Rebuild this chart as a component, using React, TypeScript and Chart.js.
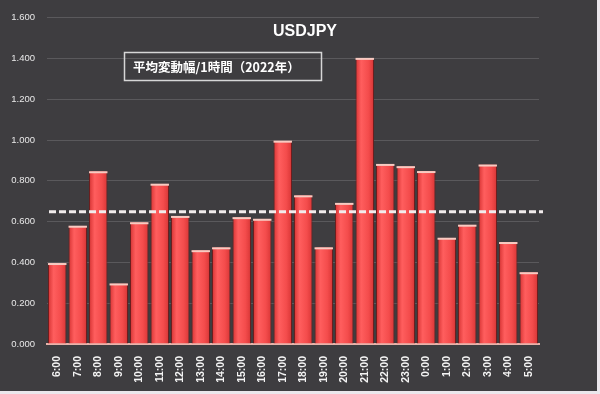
import React, { useEffect, useRef } from "react";
import { Chart, registerables } from "chart.js";

Chart.register(...registerables);

const hours = ["6:00","7:00","8:00","9:00","10:00","11:00","12:00","13:00","14:00","15:00","16:00","17:00","18:00","19:00","20:00","21:00","22:00","23:00","0:00","1:00","2:00","3:00","4:00","5:00"];
const avgRange = [0.397,0.58,0.847,0.297,0.597,0.786,0.628,0.46,0.474,0.622,0.614,0.997,0.729,0.474,0.692,1.403,0.883,0.872,0.848,0.521,0.585,0.88,0.5,0.352];
const overallAverage = 0.648;
const yTicks = [0, 0.2, 0.4, 0.6, 0.8, 1.0, 1.2, 1.4, 1.6];
const titleText = "USDJPY";
const boxText = "平均変動幅/1時間（2022年）";

const bgPlugin = {
  id: "bg",
  beforeDraw(chart: any) {
    const ctx = chart.ctx;
    ctx.save();
    ctx.fillStyle = "#ebe7ec";
    ctx.fillRect(0, 0, chart.width, chart.height);
    ctx.fillStyle = "#3e3d40";
    ctx.fillRect(0, 0, 597, 391);
    ctx.restore();
  },
};

const decoPlugin = {
  id: "deco",
  afterDatasetsDraw(chart: any) {
    const ctx = chart.ctx;
    const meta = chart.getDatasetMeta(0);
    ctx.save();
    ctx.fillStyle = "#f7cbc2";
    meta.data.forEach((el: any) => {
      const p = el.getProps(["x", "y", "width"], true);
      ctx.fillRect(p.x - p.width / 2, p.y, p.width, 2);
    });
    // average dashed line
    const y = chart.scales.y.getPixelForValue(overallAverage);
    ctx.strokeStyle = "#f1ecec";
    ctx.lineWidth = 3;
    ctx.setLineDash([7, 3]);
    ctx.beginPath();
    ctx.moveTo(chart.chartArea.left + 2, y);
    ctx.lineTo(chart.chartArea.right + 4, y);
    ctx.stroke();
    ctx.restore();
  },
  afterDraw(chart: any) {
    const ctx = chart.ctx;
    ctx.save();
    ctx.fillStyle = "#ffffff";
    ctx.font = "bold 16px 'Liberation Sans', Arial, sans-serif";
    ctx.textAlign = "center";
    ctx.textBaseline = "alphabetic";
    ctx.fillText(titleText, 305, 36);
    ctx.strokeStyle = "#d6d6d6";
    ctx.lineWidth = 1.5;
    ctx.strokeRect(124.5, 52.5, 197, 28);
    ctx.font = "bold 12.5px 'Noto Sans CJK JP', sans-serif";
    ctx.textAlign = "left";
    ctx.textBaseline = "middle";
    ctx.fillText(boxText, 133, 67);
    ctx.restore();
  },
};

export default function App() {
  const ref = useRef<HTMLCanvasElement>(null);
  useEffect(() => {
    if (!ref.current) return;
    const chart = new Chart(ref.current, {
      type: "bar",
      data: {
        labels: hours,
        datasets: [
          {
            data: avgRange,
            backgroundColor: (c: any) => {
              const ch = c.chart;
              if (!ch.chartArea || !ch.scales.x) return "#f04545";
              const x = ch.scales.x.getPixelForValue(c.dataIndex);
              const g = ch.ctx.createLinearGradient(x - 9, 0, x + 9, 0);
              g.addColorStop(0, "#d83434");
              g.addColorStop(0.3, "#ff5e5e");
              g.addColorStop(0.7, "#f44c4c");
              g.addColorStop(1, "#d93636");
              return g;
            },
            borderColor: "#6e1e1e",
            borderWidth: { left: 1, right: 1, top: 0, bottom: 0 },
            borderSkipped: false,
            barPercentage: 0.9,
            categoryPercentage: 1,
          },
        ],
      },
      options: {
        responsive: false,
        animation: false,
        layout: { padding: { top: 11, right: 61, left: 0, bottom: 0 } },
        plugins: { legend: { display: false }, tooltip: { enabled: false }, title: { display: false } },
        scales: {
          x: {
            afterFit: (s: any) => { s.height = 50; },
            grid: { display: false },
            border: { display: true, color: "#e9b3ab", width: 2 },
            ticks: {
              autoSkip: false,
              maxRotation: 90,
              minRotation: 90,
              padding: 4,
              color: "#f4f4f4",
              font: { family: "'Liberation Sans', Arial, sans-serif", size: 10.5, weight: "bold" },
            },
          },
          y: {
            min: 0,
            max: 1.6,
            afterFit: (s: any) => { s.width = 47; },
            afterBuildTicks: (s: any) => { s.ticks = yTicks.map((v) => ({ value: v })); },
            grid: { color: "#5a595c", lineWidth: 1, drawTicks: false },
            border: { display: false },
            ticks: {
              padding: 12,
              color: "#e8e8e8",
              font: { family: "'Liberation Sans', Arial, sans-serif", size: 9.5 },
              callback: (v: any) => Number(v).toFixed(3),
            },
          },
        },
      },
      plugins: [bgPlugin, decoPlugin],
    });
    return () => chart.destroy();
  }, []);
  return (
    <div style={{ position: "absolute", left: 0, top: 0, width: 600, height: 394 }}>
      <canvas ref={ref} width={600} height={394} />
    </div>
  );
}
